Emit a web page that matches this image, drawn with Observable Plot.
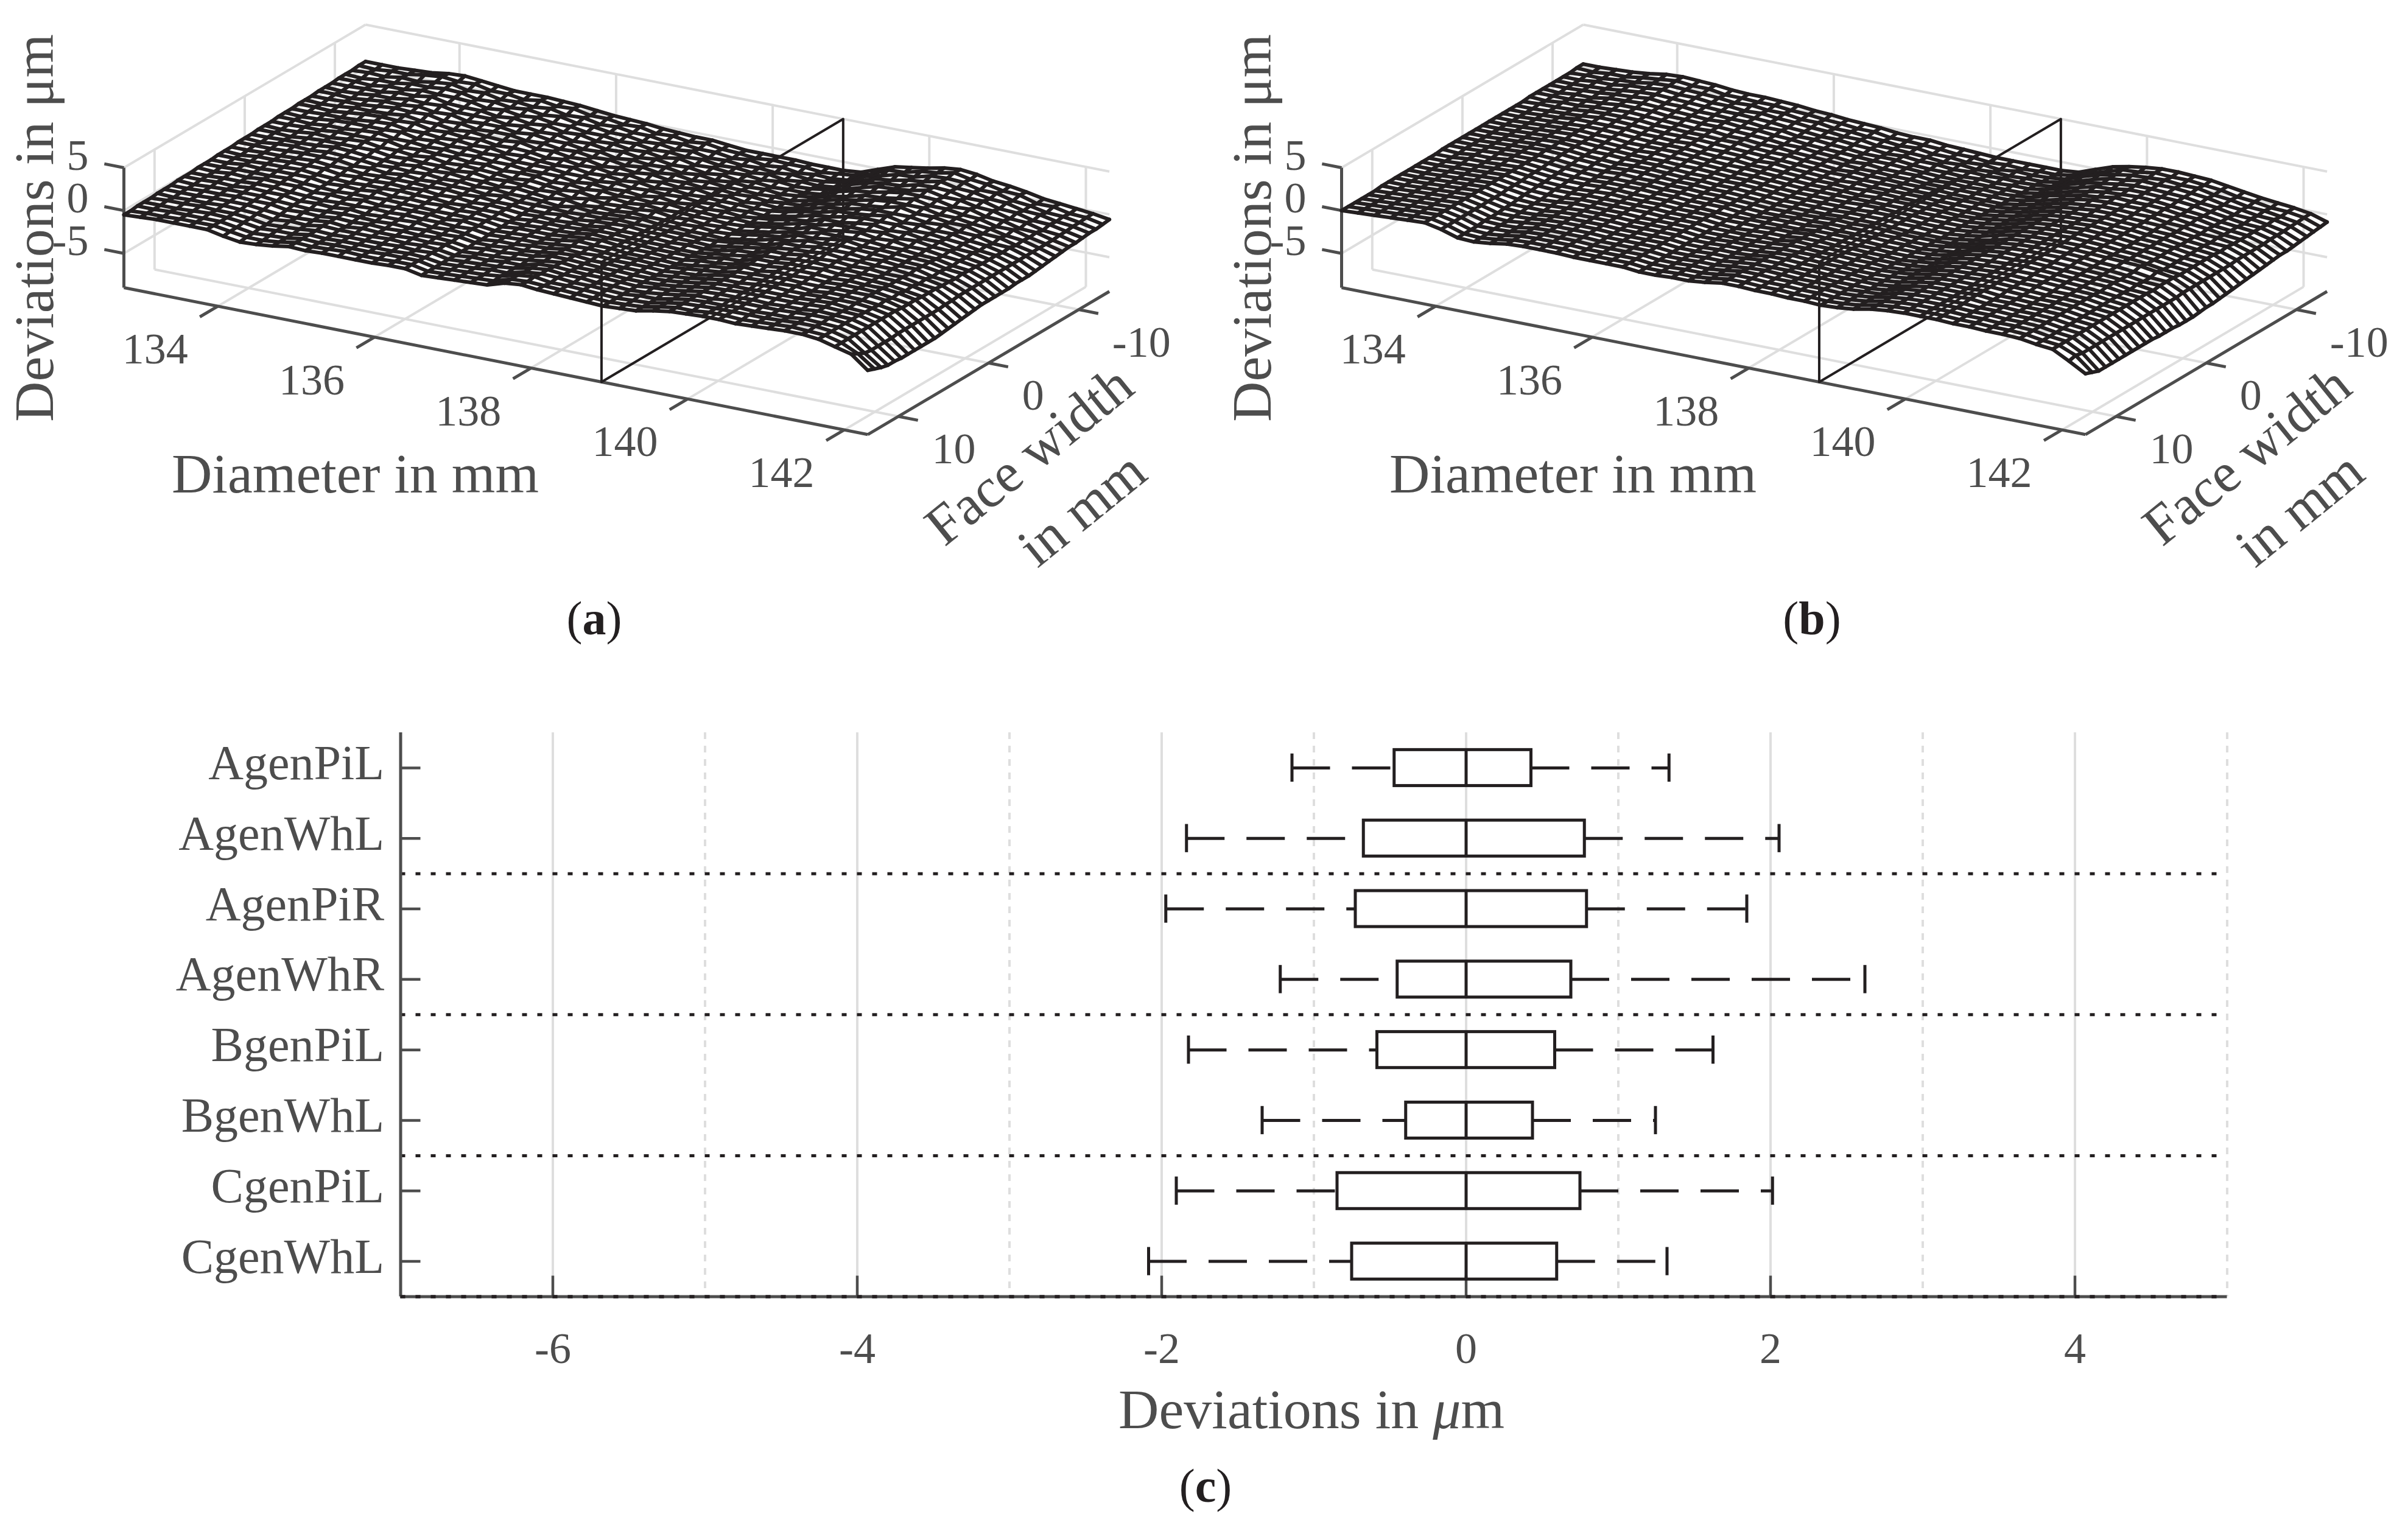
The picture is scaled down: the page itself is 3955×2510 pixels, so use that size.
<!DOCTYPE html>
<html>
<head>
<meta charset="utf-8">
<script src="https://cdn.jsdelivr.net/npm/d3@7"></script>
<script src="https://cdn.jsdelivr.net/npm/@observablehq/plot@0.6"></script>
<style>
html,body{margin:0;padding:0;background:#fff}
#page{position:relative;width:3955px;height:2510px;background:#fff;overflow:hidden;font-family:"Liberation Serif",serif;color:#4d4d4d}
.cap{position:absolute;transform:translate(-50%,-50%);white-space:nowrap;color:#231f20}
</style>
</head>
<body>
<div id="page"></div>
<script>
// Panel (c): box plot values, in µm
const categories = ["AgenPiL","AgenWhL","AgenPiR","AgenWhR","BgenPiL","BgenWhL","CgenPiL","CgenWhL"];
const whiskerLow  = [-1.144,-1.837,-1.973,-1.221,-1.824,-1.340,-1.904,-2.086];
const quartile1   = [-0.471,-0.673,-0.726,-0.451,-0.584,-0.395,-0.846,-0.750];
const medians     = [0,0,0,0,0,0,0,0];
const quartile3   = [0.428,0.779,0.793,0.690,0.584,0.438,0.750,0.597];
const whiskerHigh = [1.333,2.056,1.844,2.620,1.622,1.244,2.013,1.320];
const separators  = [2.5,4.5,6.5,8.5];
const solidGrid   = [-6,-4,-2,0,2,4];
const dottedGrid  = [-5,-3,-1,1,3,5];

// Panels (a), (b): surface axes
const diameterTicks = [134,136,138,140,142];
const faceTicks = [-10,0,10];
const zTicks = [-5,0,5];
const diameterLimits = [132.8,142.3];
const faceLimits = [-13.4,13.4];
const zLimits = [-9,5];
const sectionDiameter = 138.9;
const diameters = [132.8,133.01,133.22,133.43,133.64,133.86,134.07,134.28,134.49,134.7,134.91,135.12,135.33,135.54,135.76,135.97,136.18,136.39,136.6,136.81,137.02,137.23,137.44,137.66,137.87,138.08,138.29,138.5,138.71,138.92,139.13,139.34,139.56,139.77,139.98,140.19,140.4,140.61,140.82,141.03,141.24,141.46,141.67,141.88,142.09,142.3];
const faceWidths = [-13.4,-12.66,-11.91,-11.17,-10.42,-9.68,-8.93,-8.19,-7.44,-6.7,-5.96,-5.21,-4.47,-3.72,-2.98,-2.23,-1.49,-0.74,0,0.74,1.49,2.23,2.98,3.72,4.47,5.21,5.96,6.7,7.44,8.19,8.93,9.68,10.42,11.17,11.91,12.66,13.4];

// Deviations, in tenths of a µm: one row per face width, one column per diameter
const surfaceA = [
[7,7,7,8,9,12,13,11,9,7,7,7,6,5,3,1,0,-1,-3,-4,-5,-5,-7,-9,-9,-9,-9,-10,-10,-10,-8,-1,6,9,12,16,18,16,12,10,7,3,1,-1,-3,-6],
[7,6,8,8,11,13,11,12,8,8,5,8,5,6,2,2,-1,0,-4,-3,-6,-4,-7,-8,-10,-8,-9,-9,-11,-9,-7,-2,7,8,13,15,19,15,13,9,8,2,2,-2,-3,-7],
[6,7,6,9,8,11,13,9,10,6,7,5,7,3,4,0,1,-2,-2,-5,-4,-6,-6,-9,-7,-10,-8,-11,-9,-10,-8,0,5,10,11,16,17,16,11,11,6,4,0,-1,-4,-8],
[6,5,7,7,10,10,12,11,7,8,5,7,4,6,2,2,-1,-1,-4,-3,-6,-4,-8,-7,-9,-8,-10,-8,-10,-9,-6,-1,6,8,12,14,18,14,13,9,8,3,2,-2,-4,-8],
[6,6,5,8,8,11,10,10,9,5,7,4,6,3,3,0,0,-3,-2,-5,-4,-6,-5,-8,-7,-9,-7,-10,-8,-9,-7,0,6,9,10,15,16,15,11,11,6,5,0,-1,-5,-9],
[5,5,6,6,9,9,12,8,7,7,4,6,3,5,1,2,-2,-1,-4,-3,-6,-3,-7,-6,-8,-7,-9,-7,-9,-8,-5,-1,5,10,11,13,17,13,13,9,8,3,2,-3,-5,-10],
[5,4,5,7,7,10,9,10,6,6,6,3,5,2,3,-1,0,-3,-2,-5,-3,-6,-5,-8,-6,-9,-7,-9,-8,-8,-6,1,6,8,12,15,15,14,10,11,6,5,0,-1,-6,-10],
[5,5,4,6,8,8,10,7,8,4,5,5,2,4,1,1,-2,-1,-5,-3,-5,-4,-7,-5,-8,-6,-8,-7,-9,-7,-5,0,4,9,10,13,16,12,12,9,8,3,3,-2,-6,-11],
[4,4,5,5,7,9,8,9,5,6,3,4,4,1,2,-1,0,-3,-2,-5,-3,-6,-4,-7,-5,-7,-7,-8,-7,-8,-4,0,5,8,12,14,14,14,10,10,7,5,1,-1,-6,-12],
[4,3,4,6,6,7,9,6,6,3,5,3,2,4,0,1,-2,-1,-5,-3,-5,-3,-6,-5,-7,-5,-7,-6,-8,-6,-5,1,4,9,10,12,16,12,12,9,9,4,3,-2,-6,-13],
[4,4,3,5,7,8,7,8,4,5,3,4,1,2,1,-2,0,-3,-2,-5,-3,-6,-4,-6,-4,-7,-5,-8,-6,-7,-4,0,5,7,11,13,13,13,10,11,7,6,1,0,-6,-14],
[3,3,4,4,5,7,8,5,5,3,4,2,3,0,1,-1,-2,-1,-4,-3,-5,-3,-6,-4,-6,-5,-6,-6,-7,-6,-3,1,4,9,10,12,15,11,12,9,9,5,3,-1,-6,-15],
[3,2,3,5,6,6,6,7,3,4,2,3,1,2,-1,-1,-1,-3,-3,-5,-3,-5,-4,-5,-4,-6,-5,-7,-6,-7,-4,0,5,7,11,13,13,13,10,10,8,6,2,0,-6,-16],
[3,3,2,4,4,6,7,4,4,2,3,1,2,0,0,-2,-2,-2,-5,-3,-5,-4,-6,-3,-6,-4,-6,-5,-7,-5,-3,1,3,9,9,12,14,11,12,9,9,5,4,0,-6,-16],
[2,2,3,3,5,5,5,6,2,3,2,2,0,1,-2,-1,-1,-4,-3,-5,-3,-5,-4,-5,-3,-5,-5,-6,-5,-6,-3,0,5,7,11,12,12,13,10,11,8,7,3,0,-6,-16],
[2,1,2,4,3,5,6,3,3,1,3,0,1,0,-1,-3,-1,-3,-5,-3,-6,-3,-5,-3,-5,-4,-5,-5,-6,-5,-2,1,3,9,9,12,14,11,12,9,9,6,4,1,-6,-17],
[2,2,1,3,4,4,4,4,1,2,1,1,-1,1,-2,-1,-2,-4,-3,-6,-3,-5,-4,-4,-2,-5,-4,-6,-5,-6,-3,0,4,7,11,11,12,12,10,10,8,7,3,1,-6,-17],
[1,1,2,2,3,5,4,2,1,0,2,0,1,-1,-1,-3,-1,-3,-5,-3,-6,-4,-5,-3,-4,-4,-5,-4,-6,-5,-2,1,3,9,9,12,14,11,11,10,9,8,4,2,-6,-17],
[1,0,2,3,2,4,3,2,0,1,0,1,-1,0,-2,-1,-3,-3,-4,-6,-3,-5,-4,-3,-2,-4,-4,-5,-5,-6,-3,0,5,7,11,11,13,12,11,10,9,8,5,1,-6,-17],
[1,1,1,2,3,3,3,0,1,-1,1,-1,0,-1,-1,-3,-1,-4,-4,-4,-5,-4,-4,-2,-3,-3,-4,-4,-5,-4,-2,1,3,9,9,12,12,12,10,11,9,9,4,2,-6,-17],
[0,0,1,1,2,3,1,1,-1,0,0,0,-1,0,-2,-1,-3,-3,-5,-5,-3,-5,-3,-2,-1,-3,-3,-4,-4,-5,-2,1,4,8,10,11,13,11,11,10,10,8,6,2,-6,-18],
[0,-1,1,1,2,2,2,-1,0,-1,0,-1,0,-2,-1,-3,-2,-3,-5,-4,-5,-4,-4,-1,-2,-2,-3,-4,-3,-4,-2,2,3,9,9,12,11,12,10,11,9,9,5,3,-7,-19],
[0,0,0,1,1,2,0,-1,-2,-1,-1,0,-1,-1,-3,-2,-3,-3,-6,-4,-4,-4,-3,-1,-1,-2,-3,-3,-4,-4,-1,1,4,8,9,11,12,11,11,10,10,9,7,3,-7,-20],
[-1,-1,1,0,1,1,1,-2,-1,-2,0,-2,-1,-2,-1,-3,-2,-4,-5,-5,-4,-4,-3,0,-1,-1,-2,-3,-3,-3,-1,2,3,9,9,11,11,12,10,11,10,9,6,3,-8,-21],
[-1,-1,0,0,0,1,-1,-2,-3,-2,-2,-1,-2,-2,-3,-3,-3,-3,-6,-4,-4,-4,-2,0,1,-1,-2,-2,-3,-3,0,1,4,8,9,11,11,11,10,11,10,10,8,4,-8,-22],
[-1,-2,0,-1,1,0,0,-3,-2,-3,-1,-3,-2,-2,-2,-4,-2,-4,-6,-5,-4,-4,-2,1,0,0,-2,-2,-2,-3,-1,2,4,9,8,11,10,11,10,11,11,10,7,4,-8,-23],
[-2,-2,-1,-1,0,0,-2,-3,-4,-3,-3,-2,-3,-2,-3,-3,-4,-3,-6,-5,-4,-4,-2,0,1,0,-1,-1,-2,-2,0,2,4,8,9,10,11,10,10,11,11,11,9,4,-8,-24],
[-2,-2,-1,-2,0,-1,-1,-4,-3,-4,-2,-4,-3,-3,-2,-4,-3,-4,-7,-5,-5,-3,-2,1,0,1,-1,-1,-1,-2,0,1,5,8,9,10,10,11,9,11,11,10,8,5,-8,-24],
[-2,-3,-2,-1,-1,-1,-3,-4,-5,-4,-3,-3,-4,-3,-4,-3,-4,-3,-6,-6,-4,-4,-2,1,2,0,0,-1,-1,-2,0,2,5,8,8,10,11,10,10,11,11,11,9,5,-8,-24],
[-3,-3,-2,-2,-1,-2,-2,-5,-4,-5,-3,-4,-3,-4,-3,-4,-3,-4,-7,-5,-5,-3,-2,2,2,1,0,0,-1,-1,0,2,5,8,9,9,10,10,10,11,12,10,9,5,-8,-24],
[-3,-3,-3,-2,-2,-2,-4,-6,-6,-5,-3,-5,-3,-4,-4,-3,-4,-3,-7,-6,-5,-4,-2,1,3,1,1,0,-1,-1,0,2,5,8,9,10,10,10,10,11,12,11,10,5,-9,-24],
[-3,-4,-3,-3,-2,-3,-4,-7,-5,-6,-3,-4,-4,-4,-3,-4,-3,-4,-7,-5,-5,-3,-3,2,3,2,1,1,0,-1,1,2,5,8,9,9,10,9,10,10,12,11,10,5,-9,-24],
[-4,-3,-3,-2,-3,-3,-5,-8,-7,-6,-4,-5,-4,-4,-4,-3,-4,-3,-7,-6,-5,-4,-2,2,4,2,2,0,0,-1,0,2,5,8,8,10,10,10,10,11,12,12,10,5,-9,-23],
[-4,-4,-4,-3,-2,-3,-5,-8,-7,-7,-4,-5,-4,-4,-4,-4,-3,-4,-7,-6,-5,-3,-3,2,4,3,1,1,0,-1,1,1,5,8,9,9,10,9,10,10,12,11,10,5,-9,-23],
[-4,-4,-3,-3,-3,-3,-6,-9,-8,-7,-4,-5,-4,-4,-4,-3,-3,-3,-7,-6,-5,-4,-2,3,5,2,2,1,0,-1,0,1,5,8,9,10,10,10,10,11,12,12,10,5,-8,-21],
[-5,-4,-4,-3,-3,-3,-6,-9,-9,-7,-4,-5,-4,-3,-4,-4,-3,-3,-7,-6,-5,-4,-3,3,4,3,2,1,0,-1,0,1,5,8,8,10,10,9,10,11,12,11,10,5,-4,-18],
[-5,-4,-3,-3,-3,-3,-7,-10,-9,-7,-4,-5,-4,-4,-4,-4,-3,-3,-7,-6,-5,-4,-3,3,5,3,2,1,0,-1,0,1,5,8,9,10,10,9,10,11,12,12,10,5,0,-15]
];

// Deviations, in tenths of a µm
const surfaceB = [
[4,4,5,6,8,11,12,11,10,8,7,7,6,5,3,2,0,-1,-2,-4,-5,-5,-7,-8,-9,-10,-10,-10,-10,-10,-8,-1,6,10,13,15,15,14,13,10,7,4,2,0,-3,-9],
[4,3,5,5,8,10,12,10,10,7,7,6,6,4,3,1,0,-2,-2,-5,-5,-6,-7,-9,-9,-11,-10,-11,-10,-10,-7,-1,5,11,12,15,14,14,12,10,6,4,1,0,-3,-10],
[3,4,4,6,7,10,11,10,9,8,6,7,5,5,2,2,-1,-1,-3,-4,-6,-5,-8,-8,-10,-9,-11,-9,-10,-9,-7,0,6,10,13,14,15,13,13,9,7,3,2,-1,-4,-11],
[3,3,5,5,8,9,11,9,9,7,7,5,6,4,3,1,0,-2,-2,-5,-5,-6,-7,-9,-8,-10,-9,-10,-9,-9,-6,-1,5,10,12,15,14,14,12,10,6,4,1,0,-4,-12],
[3,3,4,5,7,9,10,9,8,7,6,6,5,4,2,1,-1,-1,-3,-4,-6,-5,-7,-7,-9,-8,-9,-8,-9,-8,-6,0,6,9,12,14,14,13,12,9,7,3,2,-1,-5,-13],
[3,3,4,5,7,8,10,8,8,6,6,5,5,3,3,0,0,-2,-3,-5,-5,-5,-7,-8,-8,-9,-8,-9,-8,-8,-5,0,5,10,11,14,14,13,12,10,7,4,1,0,-5,-14],
[3,2,4,4,7,8,9,8,7,6,5,6,4,4,2,1,-1,-2,-3,-4,-5,-5,-6,-7,-8,-8,-8,-8,-8,-8,-5,0,5,9,12,13,14,13,11,9,7,4,2,0,-5,-15],
[3,3,3,5,6,8,8,8,6,6,5,5,4,3,2,0,0,-2,-3,-5,-4,-6,-6,-6,-8,-7,-8,-7,-8,-7,-5,1,5,9,11,14,13,13,12,9,8,4,2,0,-6,-15],
[3,2,4,4,6,7,8,7,6,5,4,5,3,3,1,1,-1,-2,-3,-4,-5,-5,-6,-6,-7,-7,-7,-7,-7,-7,-4,0,5,9,12,13,13,13,11,10,7,5,2,0,-6,-16],
[2,3,3,4,6,7,7,7,5,5,4,4,3,3,1,0,0,-2,-3,-5,-4,-5,-5,-6,-6,-6,-7,-7,-7,-7,-4,0,5,9,11,13,13,12,12,9,8,4,3,0,-6,-17],
[2,2,3,4,5,7,7,6,5,4,4,4,3,2,1,0,-1,-2,-3,-4,-4,-5,-5,-5,-6,-6,-6,-6,-6,-6,-4,0,5,9,11,13,13,12,11,10,7,5,2,1,-6,-18],
[2,2,3,4,6,6,6,6,4,4,3,4,2,2,1,-1,0,-2,-3,-4,-5,-4,-5,-5,-5,-5,-6,-6,-6,-6,-3,0,5,9,11,12,13,12,11,9,8,5,3,0,-6,-19],
[2,2,3,4,5,6,6,5,4,3,3,3,2,1,1,-1,-1,-2,-3,-4,-4,-5,-4,-4,-5,-5,-5,-6,-6,-6,-3,0,5,9,11,12,13,12,11,9,8,5,3,1,-7,-20],
[2,2,3,4,5,6,5,5,3,3,3,3,2,1,0,0,-1,-2,-3,-4,-4,-4,-5,-4,-4,-4,-5,-5,-6,-5,-3,0,5,9,11,12,13,12,11,9,8,6,3,1,-7,-21],
[2,2,3,4,5,6,5,4,3,2,3,2,2,1,0,-1,-1,-2,-3,-4,-4,-4,-4,-4,-4,-4,-5,-5,-5,-5,-3,0,5,9,11,12,13,12,11,9,8,6,3,1,-7,-22],
[2,2,3,4,5,5,5,4,3,2,2,2,1,1,0,-1,-1,-2,-3,-4,-4,-4,-4,-3,-3,-4,-4,-5,-5,-5,-3,0,5,9,11,12,13,12,11,9,8,6,3,1,-7,-23],
[2,2,3,4,5,6,5,3,3,2,2,2,1,0,0,-1,-1,-2,-3,-4,-4,-4,-4,-4,-3,-3,-4,-5,-5,-5,-3,0,5,9,11,12,13,12,11,9,8,6,3,1,-7,-24],
[2,2,3,4,5,5,5,3,2,1,2,2,1,0,0,-1,-1,-2,-3,-4,-4,-4,-4,-3,-3,-3,-4,-4,-5,-5,-3,0,5,9,11,12,12,12,11,9,8,6,3,1,-7,-25],
[2,2,3,4,5,6,5,3,2,1,2,2,1,0,0,-1,-1,-2,-3,-4,-4,-4,-4,-3,-3,-3,-4,-5,-5,-5,-3,0,4,9,11,12,13,12,11,10,9,8,5,2,-7,-25],
[2,2,3,4,5,5,4,2,1,1,2,1,1,0,0,-1,-1,-2,-3,-4,-4,-4,-3,-2,-3,-2,-3,-4,-4,-4,-3,0,5,9,11,12,12,12,11,9,8,6,3,2,-7,-26],
[2,2,3,4,5,5,4,2,1,0,1,1,1,0,0,-1,-1,-2,-3,-4,-4,-3,-3,-2,-2,-2,-3,-3,-4,-4,-2,1,5,9,11,12,12,12,11,9,8,6,3,2,-8,-27],
[2,1,3,3,5,5,3,1,0,0,1,1,1,0,0,-1,-1,-1,-3,-4,-3,-3,-3,-1,-2,-2,-2,-3,-3,-4,-2,0,6,9,11,11,12,11,10,9,8,6,4,1,-8,-27],
[1,1,3,3,4,5,3,1,0,0,1,1,0,0,0,-1,-1,-2,-3,-3,-3,-3,-3,-1,-1,-1,-2,-3,-3,-3,-2,1,6,9,11,11,12,11,10,9,8,7,3,2,-8,-27],
[1,1,2,3,4,5,3,0,-1,-1,0,1,0,0,0,-1,-1,-1,-3,-3,-3,-2,-2,0,-1,-1,-2,-2,-3,-3,-2,1,6,9,10,11,12,11,10,9,8,7,4,2,-8,-26],
[1,1,2,3,4,5,2,0,-1,-1,0,0,0,0,0,-1,-1,-1,-3,-4,-3,-2,-2,0,0,-1,-1,-2,-2,-3,-1,1,6,9,10,11,11,11,10,9,8,6,4,2,-8,-26],
[1,1,2,3,4,5,2,-1,-2,-2,0,0,0,0,0,-1,-1,-1,-3,-3,-3,-2,-2,1,0,0,-1,-1,-2,-2,-1,1,6,9,10,11,11,10,10,9,8,7,4,2,-8,-26],
[1,1,2,3,4,5,2,-1,-3,-2,0,0,0,0,-1,-1,-1,-1,-3,-3,-3,-2,-1,1,1,0,0,-1,-1,-2,-1,2,6,9,10,11,11,10,10,8,8,7,4,2,-8,-25],
[1,1,2,3,4,5,1,-2,-3,-2,-1,0,0,0,-1,-1,-1,-1,-3,-3,-2,-2,-1,1,1,1,0,-1,-1,-1,0,2,6,9,10,11,11,10,9,8,8,7,4,2,-8,-25],
[1,1,2,3,4,5,1,-3,-3,-3,-1,0,0,0,-1,-1,-1,-1,-3,-3,-2,-2,-1,1,2,1,0,0,-1,-1,0,2,6,9,10,10,11,10,9,8,8,7,4,2,-8,-25],
[1,1,2,3,4,5,1,-3,-4,-3,-1,0,0,0,-1,-1,-1,-1,-3,-3,-2,-2,-1,2,2,1,1,0,0,-1,0,2,6,9,10,10,11,9,9,8,8,7,4,2,-8,-25],
[1,1,2,3,4,5,1,-4,-4,-3,-1,0,0,0,-1,-1,-1,-1,-3,-3,-2,-2,0,2,2,1,1,0,0,0,0,2,6,9,10,10,11,9,9,8,8,7,4,2,-8,-25],
[0,1,2,3,4,5,1,-4,-5,-3,-1,0,0,0,-1,-1,-1,-1,-3,-3,-2,-2,0,2,2,2,1,1,0,0,0,2,7,9,10,10,11,9,9,8,8,7,4,2,-8,-25],
[0,1,2,3,4,5,1,-4,-5,-4,-1,0,0,0,-1,-1,-1,-1,-3,-3,-2,-2,0,2,3,2,1,1,1,0,1,2,7,9,10,10,10,9,9,8,8,7,4,2,-8,-25],
[0,1,2,3,4,5,1,-5,-5,-4,-1,0,0,0,-1,-1,-1,-1,-3,-3,-2,-2,0,3,3,2,2,1,1,0,1,3,7,9,10,10,10,9,9,8,8,7,4,2,-8,-25],
[0,1,2,3,4,5,1,-5,-6,-4,-1,0,0,0,-1,-1,-1,-1,-3,-3,-2,-2,0,3,3,2,2,1,1,0,1,3,7,9,10,10,10,9,9,8,8,7,4,2,-8,-25],
[0,1,2,3,4,5,1,-5,-6,-4,-1,0,0,0,-1,-1,-1,-1,-3,-3,-2,-2,0,3,3,2,2,1,1,0,1,3,7,9,10,10,10,9,9,8,8,7,4,2,-6,-22],
[0,1,2,3,4,5,1,-5,-6,-4,-1,0,0,0,-1,-1,-1,-1,-3,-3,-2,-2,0,3,3,2,2,1,1,0,1,3,7,9,10,10,10,9,9,8,8,7,4,2,-8,-19]
];

const INK = "#231f20", AXIS = "#4d4d4d", GRID = "#dedede";
const FONT = '"Liberation Serif", serif';
const page = document.getElementById("page");

// Orthographic view of the MATLAB-style 3-D box
const [dMin, dMax] = diameterLimits, [fMin, fMax] = faceLimits, [zMin, zMax] = zLimits;
const sx = (d, f) => 203 + (d - dMin) * 128.6 + (fMax - f) * 14.81;
const sy = (d, f, z) => 472 + (d - dMin) * 25.4 - (fMax - f) * 8.77 - (z - zMin) * 14.07;
const seg = (a, b) => ({a, b});

function surfacePanel(surface, left) {
  const W = 1990, H = 1010;
  const X = p => sx(p[0], p[1]), Y = p => sy(p[0], p[1], p[2]);
  const gridSegs = [
    ...zTicks.map(z => seg([dMin,fMax,z],[dMin,fMin,z])),
    ...zTicks.map(z => seg([dMin,fMin,z],[dMax,fMin,z])),
    ...faceTicks.map(f => seg([dMin,f,zMin],[dMin,f,zMax])),
    ...diameterTicks.map(d => seg([d,fMin,zMin],[d,fMin,zMax])),
    ...faceTicks.map(f => seg([dMin,f,zMin],[dMax,f,zMin])),
    ...diameterTicks.map(d => seg([d,fMax,zMin],[d,fMin,zMin]))
  ];
  const axisSegs = [
    seg([dMin,fMax,zMin],[dMin,fMax,zMax]),
    seg([dMin,fMax,zMin],[dMax,fMax,zMin]),
    seg([dMax,fMax,zMin],[dMax,fMin,zMin]),
    ...zTicks.map(z => seg([dMin,fMax,z],[dMin-0.25,fMax,z])),
    ...diameterTicks.map(d => seg([d,fMax,zMin],[d,fMax+2,zMin])),
    ...faceTicks.map(f => seg([dMax,f,zMin],[dMax+0.25,f,zMin]))
  ];
  const sectionPath = [[fMax,zMin],[fMin,zMin],[fMin,zMax],[fMax,zMax],[fMax,zMin]]
    .map(([f,z]) => [sectionDiameter,f,z]);
  const along = [], across = [];
  surface.forEach((row, r) => row.forEach((v, c) => {
    const p = {u: sx(diameters[c], faceWidths[r]), v: sy(diameters[c], faceWidths[r], v / 10), r, c};
    along.push(p); across.push(p);
  }));
  const linkOpts = (stroke, strokeWidth) => ({
    x1: s => X(s.a), y1: s => Y(s.a), x2: s => X(s.b), y2: s => Y(s.b),
    stroke, strokeWidth, markerEnd: "none"
  });
  const title = {frameAnchor: "top-left", textAnchor: "middle", lineAnchor: "middle", fontSize: 92, fill: AXIS};
  const plot = Plot.plot({
    width: W, height: H, margin: 0,
    x: {domain: [0, W], range: [0, W], axis: null},
    y: {domain: [0, H], range: [0, H], axis: null},
    style: {position: "absolute", left: left + "px", top: "0px", background: "transparent", fontFamily: FONT, overflow: "visible"},
    marks: [
      Plot.link(gridSegs, linkOpts(GRID, 4)),
      Plot.link(axisSegs, linkOpts(AXIS, 5)),
      Plot.line(sectionPath, {x: X, y: Y, stroke: INK, strokeWidth: 4}),
      Plot.line(along, {x: "u", y: "v", z: "r", stroke: INK, strokeWidth: 6, strokeLinejoin: "round", strokeLinecap: "round"}),
      Plot.line(across, {x: "u", y: "v", z: "c", stroke: INK, strokeWidth: 6, strokeLinejoin: "round", strokeLinecap: "round"}),
      Plot.text(zTicks, {x: () => sx(dMin, fMax), y: z => sy(dMin, fMax, z), text: d => String(d), textAnchor: "end", dx: -58, dy: -20, fontSize: 72, fill: AXIS}),
      Plot.text(diameterTicks, {x: d => sx(d, fMax), y: d => sy(d, fMax, zMin), text: d => String(d), dx: -103, dy: 71, fontSize: 72, fill: AXIS}),
      Plot.text(faceTicks, {x: f => sx(dMax, f), y: f => sy(dMax, f, zMin), text: d => String(d), textAnchor: "start", dx: 55, dy: 54, fontSize: 72, fill: AXIS}),
      Plot.text(["Diameter in mm"], {...title, dx: 583, dy: 779}),
      Plot.text(["Deviations in μm"], {...title, dx: 57, dy: 374, rotate: -90}),
      Plot.text(["Face width"], {...title, dx: 1690, dy: 748, rotate: -39}),
      Plot.text(["in mm"], {...title, dx: 1777, dy: 836, rotate: -39})
    ]
  });
  page.appendChild(plot);
}

surfacePanel(surfaceA, 0);
surfacePanel(surfaceB, 2000);

// Panel (c)
const rows = categories.map((name, i) => ({
  name, i: i + 1, lo: whiskerLow[i], q1: quartile1[i], med: medians[i], q3: quartile3[i], hi: whiskerHigh[i]
}));
const boxHalf = 0.255, capHalf = 0.2;
const boxPlot = Plot.plot({
  width: 3955, height: 1130,
  marginLeft: 657.5, marginRight: 297.5, marginTop: 103, marginBottom: 100.5,
  x: {domain: [-7, 5], axis: null, label: null},
  y: {domain: [8.5, 0.5], axis: null, label: null},
  style: {position: "absolute", left: "0px", top: "1100px", background: "transparent", fontFamily: FONT, color: AXIS, overflow: "visible"},
  marks: [
    Plot.ruleX(solidGrid, {stroke: GRID, strokeWidth: 4}),
    Plot.ruleX(dottedGrid, {stroke: GRID, strokeWidth: 4, strokeDasharray: "11,11"}),
    Plot.axisX({anchor: "bottom", label: null, ticks: solidGrid, tickSize: -34, tickFormat: () => "", stroke: AXIS, strokeWidth: 4.5}),
    Plot.axisX({anchor: "bottom", label: null, ticks: solidGrid, tickSize: 0, tickPadding: 58, tickFormat: d => String(d), fontSize: 72, fill: AXIS}),
    Plot.axisY({anchor: "left", label: null, ticks: rows.map(d => d.i), tickSize: -33, tickFormat: () => "", stroke: AXIS, strokeWidth: 4.5}),
    Plot.axisY({anchor: "left", label: null, ticks: rows.map(d => d.i), tickSize: 0, tickPadding: 27, tickFormat: i => categories[i - 1], fontSize: 80, fill: AXIS, dy: -7}),
    Plot.ruleY(separators, {stroke: INK, strokeWidth: 5, strokeDasharray: "8,17"}),
    Plot.ruleX([-7], {stroke: AXIS, strokeWidth: 5}),
    Plot.ruleY([8.5], {stroke: AXIS, strokeWidth: 5}),
    Plot.ruleY([8.5], {stroke: INK, strokeWidth: 5, strokeDasharray: "8,17"}),
    Plot.ruleY(rows, {y: "i", x1: "lo", x2: "q1", stroke: INK, strokeWidth: 5, strokeDasharray: "63,36"}),
    Plot.ruleY(rows, {y: "i", x1: "q3", x2: "hi", stroke: INK, strokeWidth: 5, strokeDasharray: "63,36"}),
    Plot.ruleX(rows, {x: "lo", y1: d => d.i - capHalf, y2: d => d.i + capHalf, stroke: INK, strokeWidth: 5}),
    Plot.ruleX(rows, {x: "hi", y1: d => d.i - capHalf, y2: d => d.i + capHalf, stroke: INK, strokeWidth: 5}),
    Plot.rect(rows, {x1: "q1", x2: "q3", y1: d => d.i - boxHalf, y2: d => d.i + boxHalf, fill: "none", stroke: INK, strokeWidth: 5}),
    Plot.ruleX(rows, {x: "med", y1: d => d.i - boxHalf, y2: d => d.i + boxHalf, stroke: INK, strokeWidth: 5})
  ]
});
page.appendChild(boxPlot);

// Titles and captions
function caption(html, x, y, size, color) {
  const el = document.createElement("div");
  el.className = "cap";
  el.innerHTML = html;
  el.style.left = x + "px"; el.style.top = y + "px"; el.style.fontSize = size + "px";
  if (color) el.style.color = color;
  page.appendChild(el);
}
caption("Deviations in <i>μ</i>m", 2154, 2315, 92, AXIS);
caption("(<b>a</b>)", 976, 1016, 78);
caption("(<b>b</b>)", 2976, 1016, 78);
caption("(<b>c</b>)", 1980, 2441, 78);
</script>
</body>
</html>
